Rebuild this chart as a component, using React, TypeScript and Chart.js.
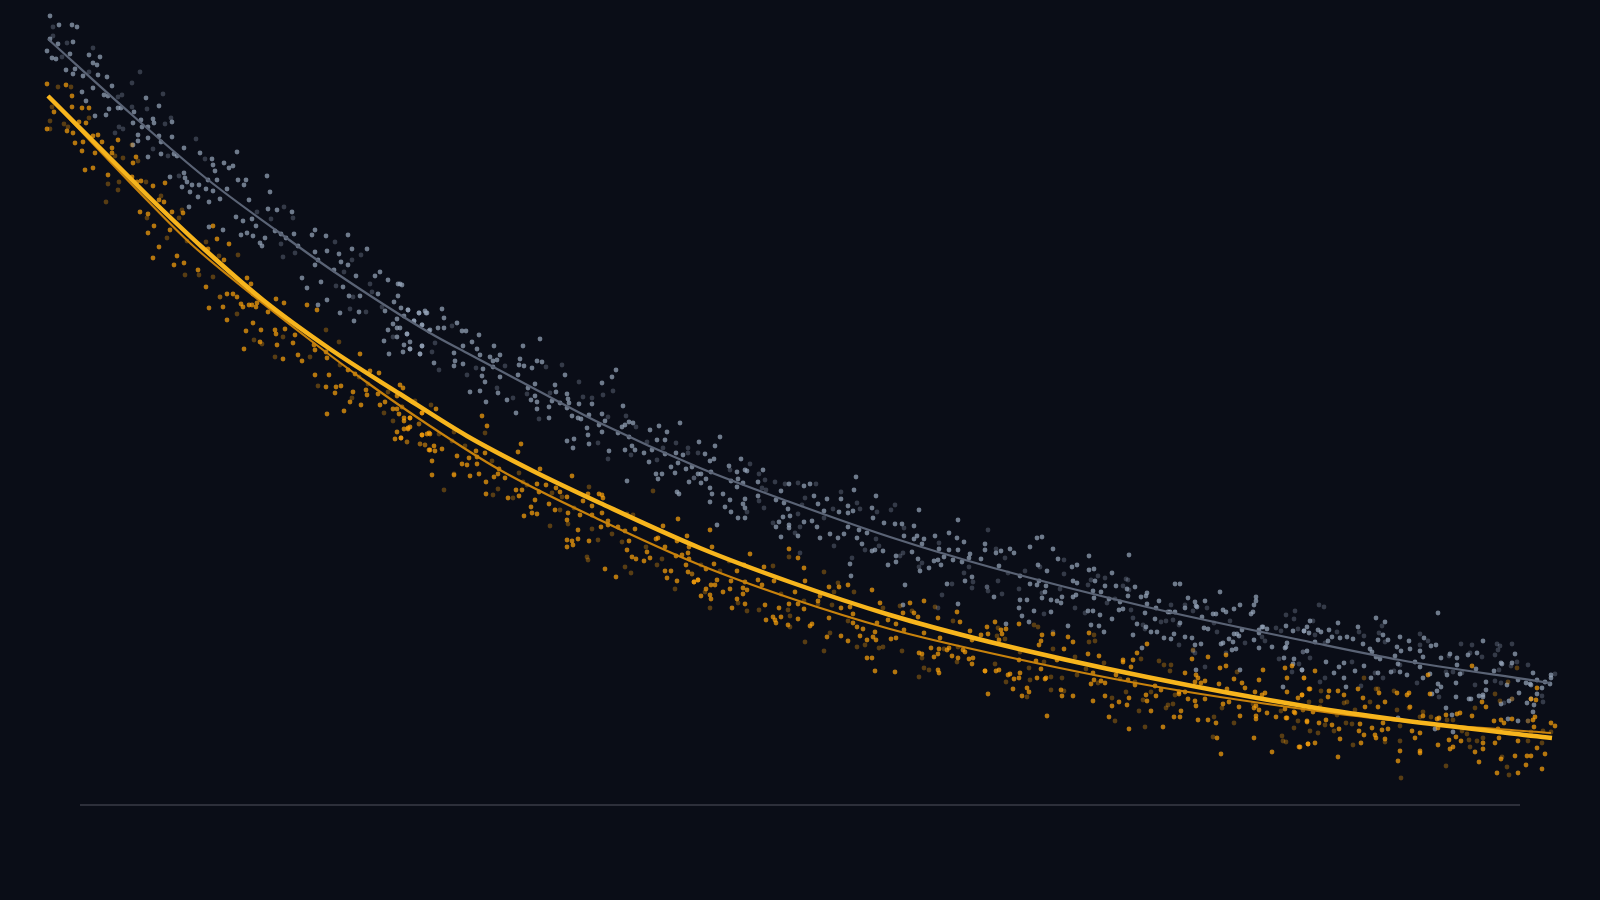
import React, { useEffect, useRef } from "react";
import { Chart, registerables } from "chart.js";

Chart.register(...registerables);

// Readings are flat x,y lists; y is height above the baseline rule.
const grayCurve = [0,766, 83,691, 159,626, 229,574, 285,534, 382,472, 419,452, 485,417, 552,382, 652,337, 742,303, 842,268, 942,238, 1099,198, 1262,163, 1352,145, 1489,124, 1502,122];
const goldThinCurve = [0,709, 69,636, 95,609, 142,562, 182,528, 249,475, 317,424, 382,379, 452,335, 552,285, 652,240, 742,207, 842,176, 942,152, 1099,120, 1262,95, 1352,84, 1503,72];
const goldMainCurve = [0,709, 42,667, 85,624, 100,609, 155,557, 215,505, 282,456, 352,411, 419,369, 485,334, 552,302, 652,257, 742,223, 842,190, 942,163, 1099,128, 1262,98, 1352,85, 1504,67];
const axisRule = [32,0, 1472,0];

const grayBright = [2,789,11,780,24,780,29,778,2,766,10,761,25,763,-1,754,41,750,22,751,52,748,4,747,8,746,45,742,49,740,18,735,25,731,27,736,50,730,59,728,35,729,64,719,45,717,34,713,56,710,60,709,98,707,111,699,38,704,73,697,70,697,61,696,58,690,47,689,86,693,93,685,105,686,106,682,85,682,124,683,94,678,100,678,90,670,100,667,111,669,124,668,85,660,90,664,113,663,136,657,152,652,189,653,164,646,176,642,165,640,185,639,181,637,167,634,219,629,100,648,113,651,126,651,129,649,122,628,136,632,137,627,139,623,144,620,151,620,134,618,158,616,165,614,142,613,179,616,160,625,169,625,190,625,198,625,196,620,222,613,150,608,172,606,201,605,161,603,141,598,220,596,229,595,244,593,188,588,195,584,204,586,175,575,161,578,199,572,193,570,205,569,227,574,208,579,233,571,246,571,267,575,264,570,238,567,217,567,212,562,214,559,250,559,300,570,278,569,304,556,319,556,267,553,279,554,291,551,293,543,270,545,267,540,286,535,300,540,308,529,332,533,327,529,340,525,254,527,273,523,295,518,259,517,312,509,330,511,350,521,350,509,
279,505,270,500,311,493,292,492,306,484,301,509,346,503,337,494,353,497,360,495,349,486,356,489,366,484,371,492,377,494,379,492,374,480,345,481,340,475,349,477,352,477,359,471,349,468,336,464,356,460,362,463,374,459,362,456,355,453,372,451,341,451,381,474,352,521,354,520,
360,495,371,492,378,492,394,496,396,487,374,480,366,484,382,475,390,477,396,477,409,482,359,471,374,459,372,451,362,456,386,442,414,474,418,474,431,470,492,466,475,459,446,459,424,463,415,459,429,456,406,452,432,450,452,450,442,448,449,445,445,444,407,444,406,439,415,441,445,438,435,436,472,446,471,440,476,439,484,437,489,444,494,443,470,430,434,429,437,423,452,428,517,430,564,428,568,435,554,422,487,421,480,417,507,420,422,413,432,414,450,412,459,405,438,403,468,392,483,405,487,409,489,403,489,396,501,398,501,387,504,404,508,413,512,402,519,411,520,406,521,402,519,397,524,389,531,401,544,401,530,387,533,386,541,390,554,391,575,399,557,384,551,380,539,377,540,370,554,373,574,378,577,380,581,383,585,382,602,375,611,379,619,373,632,382,570,372,581,368,519,364,526,366,525,357,541,361,577,355,584,359,587,355,561,354,596,352,604,355,609,365,617,365,601,343,617,351,628,352,635,350,623,338,630,342,638,336,644,338,614,331,608,331,610,326,627,332,641,323,579,324,629,313,631,311,650,331,
672,368,651,363,667,359,657,351,666,346,662,344,681,339,693,346,689,333,697,335,699,334,663,333,653,331,658,326,653,322,662,317,664,311,662,303,675,311,677,298,669,280,683,324,690,326,695,322,689,318,697,306,682,305,695,301,697,297,683,293,690,287,697,287,710,323,715,335,710,309,741,321,756,319,762,321,733,314,728,305,736,302,740,296,735,288,742,289,731,283,728,278,741,277,741,280,750,269,733,268,756,283,764,284,769,278,772,267,782,271,790,267,796,271,766,309,779,306,770,301,776,294,791,293,793,306,800,299,800,292,805,294,806,315,808,328,828,309,824,297,825,287,836,282,847,281,854,281,866,279,871,295,809,267,819,272,811,275,800,278,814,261,824,254,827,255,835,254,856,269,866,266,869,269,876,266,874,261,887,269,901,272,909,267,916,263,910,285,937,261,937,255,802,241,803,229,840,240,848,249,848,243,864,253,870,246,872,234,881,237,886,244,891,256,890,245,893,240,896,248,901,255,910,255,905,245,922,251,921,247,914,243,933,246,857,220,899,221,924,228,917,224,910,201,855,200,
948,252,953,254,962,256,966,252,982,258,989,267,994,268,1005,256,1010,246,1041,249,1081,250,951,239,990,240,999,234,1024,238,1029,240,1041,235,1046,236,1064,232,972,229,982,221,989,220,991,224,998,219,1025,224,1029,222,1047,224,1057,219,1068,219,1079,216,1087,218,1127,221,1132,221,946,208,972,205,979,205,997,213,994,207,1003,205,1009,204,1013,202,1014,208,1025,208,1028,210,1045,214,1053,213,1046,207,1061,206,1072,203,1080,209,1093,208,1099,212,1098,209,1111,204,1140,207,1147,203,1157,204,1172,213,1208,208,1208,204,971,197,986,194,1003,193,974,189,1040,194,1045,194,1052,190,1064,186,1075,196,1071,195,1099,201,1097,192,1108,197,1107,186,1120,193,1122,193,1127,193,1137,197,1149,198,1148,199,1165,191,1168,191,1175,195,1178,193,1186,196,1192,200,1206,200,1203,191,1205,193,1154,188,981,183,1020,179,1043,180,1051,179,1056,173,958,181,1089,181,1098,178,1085,170,1103,173,1109,173,1126,171,1132,182,1116,167,1123,166,1137,168,1144,167,1156,177,1160,176,1194,175,1189,171,1186,171,1191,169,1211,175,1214,178,1215,178,1219,176,1211,172,1245,174,1238,179,1256,174,1206,165,1181,166,1185,163,1175,162,1173,161,1153,161,1147,160,1224,158,1211,157,1239,162,1238,158,1237,157,1188,156,1184,155,1094,157,1246,146,1245,141,1236,147,1254,135,1148,135,1235,118,1192,135,
1259,178,1262,184,1256,174,1261,172,1270,175,1273,173,1281,175,1290,182,1284,168,1292,167,1299,168,1305,166,1310,178,1267,163,1280,164,1315,161,1328,187,1337,183,1335,170,1330,165,1340,165,1352,168,1361,164,1376,167,1383,159,1388,160,1390,192,1349,158,1353,154,1362,156,1372,154,1375,148,1393,147,1402,151,1409,147,1435,164,1420,150,1429,152,1467,151,1259,154,1278,143,1296,142,1322,156,1324,153,1328,148,1332,146,1347,149,1367,143,1350,141,1372,138,1409,140,1428,136,1453,142,1454,141,1464,142,1291,138,1316,139,1254,135,1286,132,1307,134,1330,132,1343,133,1352,133,1359,130,1382,131,1399,130,1412,131,1446,134,1485,132,1296,127,1323,127,1375,127,1408,122,1438,123,1470,125,1489,125,1459,120,1503,130,1503,127,1502,121,1482,121,1478,122,1483,120,1497,123,1494,117,1390,121,1393,118,1298,118,1389,114,1438,115,1471,112,1489,111,1384,111,1408,108,1431,109,1435,110,1435,108,1421,106,1423,106,1461,104,1453,101,1479,102,1486,100,1398,97,1404,90,1460,86,1470,84,1485,93,1387,76,1405,73,1350,87,1483,106];

const grayDim = [5,778,5,769,19,762,45,757,14,748,41,733,92,733,84,722,115,711,74,710,70,708,99,696,84,698,123,687,117,681,71,678,75,676,67,672,148,666,105,656,120,649,157,646,131,629,209,593,236,598,245,587,223,586,235,548,233,561,247,552,287,563,313,550,304,545,296,533,288,519,322,521,324,513,
318,493,302,496,305,508,334,498,345,468,
404,479,387,462,384,453,391,435,419,430,428,437,457,439,498,438,514,440,449,417,465,407,479,411,502,412,491,386,531,423,555,410,565,414,544,407,535,408,560,388,578,389,588,378,550,362,560,346,583,350,609,345,640,357,628,362,615,357,640,352,646,327,599,363,
650,352,702,341,682,335,711,331,646,327,717,325,727,323,737,321,750,322,768,321,793,313,714,317,718,315,711,304,716,297,699,293,725,282,750,291,757,307,754,300,776,287,785,296,812,296,809,302,829,293,847,300,843,295,856,277,828,266,831,259,817,255,786,259,752,252,747,272,752,278,804,247,855,252,852,249,871,238,874,242,891,262,921,238,916,232,925,223,924,217,904,221,894,210,939,218,890,197,
940,275,948,256,957,247,1016,245,977,234,992,238,1016,231,960,232,950,224,939,218,940,214,954,211,971,216,994,212,1012,216,1040,220,1043,225,1050,229,1057,227,1078,226,1080,225,1075,219,1081,215,1059,202,1067,206,996,191,1027,197,1037,192,1083,195,1085,187,1095,180,1097,176,1113,183,1118,184,1125,185,1131,180,1123,200,1137,200,1145,194,1159,197,1182,184,1169,173,1166,182,1197,162,1214,168,1217,164,1228,177,1233,174,1238,190,1247,194,1246,186,1250,176,1131,160,1147,152,1157,138,1178,152,1255,153,1244,133,1251,141,1231,146,1005,173,1145,154,
1271,200,1276,198,1265,184,1289,173,1267,170,1311,173,1316,169,1331,172,1334,179,1337,163,1277,162,1372,171,1372,160,1380,164,1413,161,1424,160,1449,161,1464,161,1450,155,1452,159,1422,152,1401,149,1434,148,1447,150,1469,143,1480,140,1463,139,1451,135,1255,153,1262,147,1304,143,1352,140,1346,134,1327,132,1335,127,1272,123,1277,127,1313,119,1369,122,1391,108,1427,120,1447,124,1453,122,1398,133,1405,133,1414,132,1507,131,1494,109,1495,103,1456,102,1464,106,1391,86,1480,84];

const goldBright = [-1,721,18,720,24,709,24,698,34,697,41,697,6,693,31,683,38,682,-1,676,19,674,25,672,45,669,50,670,27,662,35,663,54,663,70,665,34,654,47,652,64,657,64,652,88,648,85,642,37,635,45,637,60,630,84,628,89,623,93,624,105,619,117,622,116,603,111,605,92,593,100,591,124,593,135,592,106,579,165,579,100,572,122,575,169,566,181,561,111,558,129,549,105,547,136,542,126,540,150,535,160,556,176,545,179,511,185,511,158,518,189,508,205,511,199,527,203,521,
161,497,175,498,179,485,195,498,193,501,201,500,204,500,208,498,209,502,220,493,227,494,236,502,228,506,259,500,269,495,205,482,198,474,213,475,196,456,212,463,229,460,228,471,227,475,237,476,247,470,245,462,250,450,254,444,235,446,266,460,267,455,278,453,279,447,267,430,281,430,300,435,307,431,312,451,322,434,331,432,278,418,288,418,293,419,287,412,305,413,279,391,296,394,302,403,313,400,319,410,332,400,337,403,330,411,318,415,349,409,352,420,355,417,345,396,349,396,351,391,356,387,362,387,349,373,347,366,353,367,356,376,360,376,362,378,374,392,374,370,379,371,381,355,381,372,
388,396,374,392,434,389,439,379,362,387,356,384,360,377,353,367,374,370,382,371,473,361,470,353,386,359,382,355,387,354,384,344,394,356,409,349,429,348,437,352,428,354,414,341,419,340,421,347,429,341,384,330,406,330,422,329,431,331,438,323,446,328,451,336,450,331,457,327,438,311,460,307,468,315,471,309,474,315,489,321,492,336,498,320,508,317,524,329,512,313,519,308,491,313,487,305,483,298,476,289,484,292,489,291,507,295,501,301,520,292,519,285,530,275,519,265,524,264,525,260,519,258,530,266,540,311,551,311,554,310,555,307,535,304,544,299,554,292,532,290,544,290,560,284,553,278,560,280,570,278,577,274,587,276,541,264,579,255,581,264,584,248,588,246,599,253,602,247,596,244,557,236,568,228,617,258,630,286,615,279,629,264,639,269,641,258,640,252,641,246,634,250,628,249,638,240,617,234,623,234,619,227,629,224,640,233,646,223,650,225,610,267,608,266,
662,275,741,256,664,258,702,251,750,247,756,237,666,241,716,238,696,240,689,234,658,236,710,225,683,224,669,225,650,225,646,223,663,220,667,220,697,223,714,220,726,224,757,224,800,220,781,218,791,218,658,216,682,216,675,213,695,217,699,215,653,209,662,210,663,206,689,206,695,211,747,213,772,209,770,204,824,215,832,202,862,202,684,197,697,201,717,200,731,197,741,201,750,201,756,196,793,197,802,198,805,191,855,192,866,192,870,188,876,204,909,193,890,187,718,185,725,188,733,188,750,186,727,185,728,182,740,180,762,179,764,181,781,187,805,182,809,178,815,176,829,182,840,185,848,181,912,183,939,178,922,174,779,168,793,169,800,164,812,169,819,165,825,168,828,165,827,173,843,166,848,167,856,175,876,172,892,167,924,165,940,171,819,147,824,147,883,157,891,156,899,155,901,157,871,152,874,151,890,151,886,148,904,149,910,147,915,155,917,153,921,146,925,147,924,141,827,134,847,133,890,135,891,132,937,134,940,111,
933,170,953,175,958,176,954,171,951,165,971,181,994,170,1005,171,991,160,993,164,1020,168,1025,163,1016,156,1041,172,1040,151,1051,149,1099,161,1089,152,1075,145,1075,143,1085,145,1083,138,971,145,988,144,1009,145,937,134,951,135,948,134,962,131,960,130,966,126,971,127,972,132,989,127,998,127,993,136,997,126,979,117,981,113,965,116,974,109,1013,115,1014,109,1025,109,1045,132,1043,121,1046,125,1053,124,1057,122,1068,130,1080,125,1087,120,1057,109,1045,104,1064,99,1071,103,1079,100,1081,107,1061,88,1081,76,1115,78,1098,110,1099,104,1108,109,1103,94,1107,119,1113,115,1131,113,1131,111,1137,113,1140,106,1147,104,1148,99,1157,106,1133,94,1126,88,1132,88,1150,85,1160,85,1168,82,1175,101,1181,103,1192,89,1191,98,1206,97,1208,99,1211,95,1208,89,1208,86,1219,92,1228,88,1237,96,1238,87,1239,87,1246,93,1247,92,1169,67,1206,67,1224,53,1251,58,1260,61,1173,51,999,89,1144,146,1160,148,1172,137,1178,139,1137,132,1148,130,1150,127,1147,123,1153,122,1157,124,1171,121,1186,126,1194,122,1197,117,1179,116,1207,113,1217,112,1214,110,1211,125,1215,135,1237,137,1244,139,1239,127,1239,113,1254,110,1250,107,1261,116,1259,83,1256,127,947,183,1178,150,
1267,134,1254,110,1262,116,1281,114,1280,108,1290,114,1296,110,1310,116,1315,107,1331,112,1337,103,1349,112,1359,110,1361,112,1382,111,1380,130,1424,139,1434,103,1438,98,1317,98,1330,98,1362,98,1265,93,1375,89,1389,86,1391,87,1398,90,1409,91,1412,92,1424,89,1446,84,1453,85,1456,82,1464,86,1487,88,1485,85,1486,78,1503,82,1507,79,1488,105,1483,106,1489,117,1278,85,1271,82,1259,84,1284,80,1291,76,1312,81,1311,74,1316,70,1324,77,1334,75,1335,82,1340,76,1364,74,1372,72,1367,67,1390,77,1390,60,1401,65,1408,68,1413,64,1450,76,1451,67,1470,64,1435,62,1447,62,1435,56,1489,57,1402,56,1405,58,1427,53,1453,46,1467,49,1479,49,1483,49,1497,51,1431,43,1478,40,1494,36,1449,32,1470,32,1292,66,1313,62,1327,70,1328,67,1337,66,1267,62,1260,61,1252,58,1290,48,1352,54,1372,54,1372,52,1350,44];

const goldDim = [10,718,23,718,4,698,2,684,16,681,41,687,2,676,20,678,75,647,67,649,90,644,84,660,71,623,60,621,98,623,70,615,58,603,113,609,134,595,131,587,99,587,119,567,139,564,158,563,137,530,151,530,165,528,172,508,190,550,171,549,
189,491,172,508,227,448,206,465,214,461,235,468,278,475,291,463,262,448,270,419,292,440,311,428,320,421,336,392,345,384,359,363,372,361,377,360,371,381,354,398,304,407,367,404,340,413,
354,398,383,400,371,381,359,363,372,361,377,360,391,371,406,373,404,364,417,359,396,315,406,331,444,344,437,372,450,316,445,310,465,307,471,332,475,323,479,320,502,279,504,312,514,308,512,295,526,297,541,318,520,281,544,276,550,265,539,248,540,245,564,271,574,263,577,238,583,232,598,258,609,240,614,246,605,314,644,231,627,216,585,290,579,291,
741,248,776,233,725,239,653,240,681,244,644,231,672,234,657,213,699,194,711,195,690,202,662,197,733,211,806,213,786,213,790,222,784,200,770,201,756,204,740,195,742,189,742,178,757,163,776,154,782,172,800,184,809,158,817,160,831,157,835,158,854,154,835,197,852,199,862,184,864,194,887,198,876,137,881,135,871,128,874,147,905,184,896,156,910,158,909,143,
950,177,986,180,990,178,949,169,957,166,1046,170,1041,163,1047,164,1005,156,972,153,1027,148,1056,142,1093,146,1111,144,1116,140,1123,140,1122,134,1145,155,947,141,958,123,982,125,981,137,996,143,1003,128,1014,127,1003,115,979,108,1016,114,1029,130,1038,136,1050,122,1072,126,1087,123,1078,113,1064,107,1095,105,1103,113,1091,94,1067,84,1097,78,1118,97,1120,100,1125,101,1127,110,1174,97,1166,88,1186,82,1165,68,1189,133,1205,101,1233,94,1246,77,1250,84,1255,95,1234,69,1235,64,1238,63,
1256,127,1316,127,1273,114,1261,103,1273,104,1296,102,1299,103,1322,103,1328,116,1330,116,1346,114,1361,97,1349,95,1375,93,1307,95,1272,98,1255,95,1277,95,1289,90,1383,88,1372,88,1427,97,1452,104,1464,106,1447,111,1469,137,1460,123,1405,85,1399,85,1352,79,1298,82,1304,81,1277,80,1480,84,1262,74,1270,72,1286,74,1414,74,1419,71,1495,74,1483,73,1503,73,1421,65,1429,64,1435,67,1480,64,1494,62,1337,63,1352,64,1305,60,1422,58,1454,48,1459,38,1461,30,1398,39,1353,27];

const pairs = (flat: number[]) => {
  const out: { x: number; y: number }[] = [];
  for (let i = 0; i < flat.length; i += 2) out.push({ x: flat[i], y: flat[i + 1] });
  return out;
};

const dots = (flat: number[], color: string, order: number) => ({
  data: pairs(flat),
  showLine: false,
  pointRadius: 2.4,
  pointBorderWidth: 0,
  pointBackgroundColor: color,
  order,
});

const line = (flat: number[], color: string, width: number, order: number) => ({
  data: pairs(flat),
  showLine: true,
  cubicInterpolationMode: "monotone" as const,
  borderColor: color,
  borderWidth: width,
  borderCapStyle: "butt" as const,
  pointRadius: 0,
  order,
});

const BG = "#0a0d17";

export default function App() {
  const ref = useRef<HTMLCanvasElement>(null);
  useEffect(() => {
    document.body.style.margin = "0";
    document.body.style.background = BG;
    const chart = new Chart(ref.current!, {
      type: "scatter",
      data: {
        datasets: [
          line(axisRule, "#50535f", 1.2, 8),
          dots(grayDim, "rgba(148,163,184,0.3)", 7),
          dots(grayBright, "rgba(148,163,184,0.72)", 6),
          line(grayCurve, "#5a6375", 2.2, 5),
          dots(goldDim, "rgba(245,158,11,0.33)", 4),
          dots(goldBright, "rgba(245,158,11,0.72)", 3),
          line(goldThinCurve, "#c8820c", 2.2, 2),
          line(goldMainCurve, "#f7b51d", 4.5, 1),
        ] as any,
      },
      options: {
        responsive: false,
        animation: false,
        devicePixelRatio: 1,
        layout: { padding: 0, autoPadding: false },
        plugins: { legend: { display: false }, tooltip: { enabled: false } },
        scales: {
          x: { type: "linear", min: -48, max: 1552, display: false },
          y: { type: "linear", min: -95, max: 805, display: false },
        },
      },
    });
    return () => chart.destroy();
  }, []);
  return (
    <canvas
      ref={ref}
      width={1600}
      height={900}
      style={{ display: "block", width: 1600, height: 900, background: BG }}
    />
  );
}
